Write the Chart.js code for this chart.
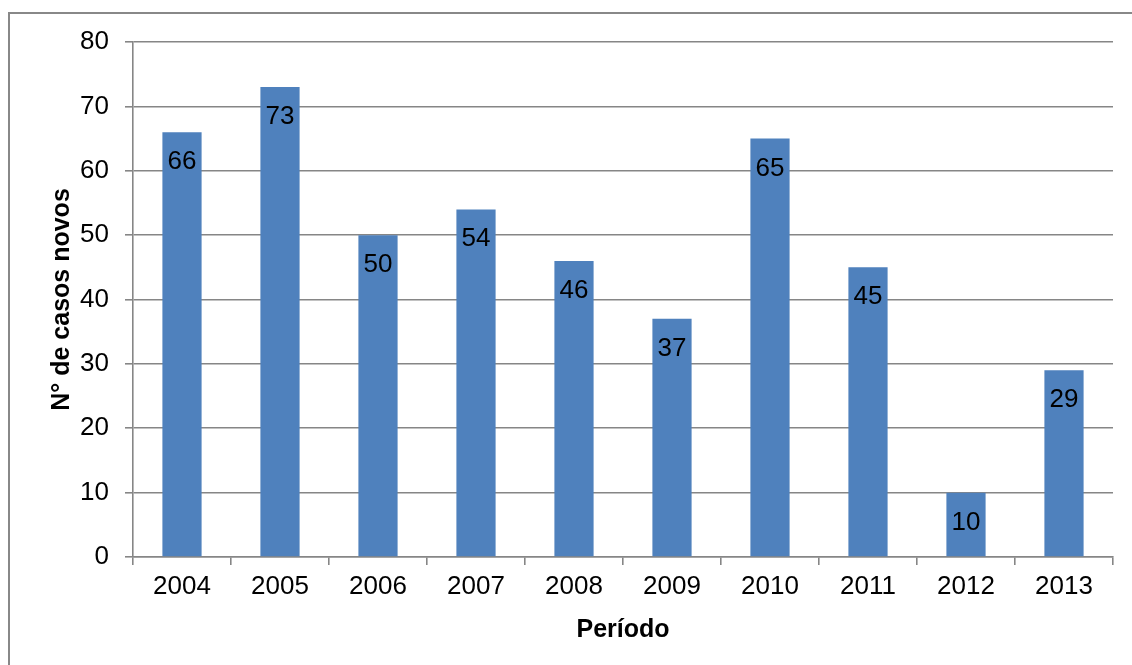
<!DOCTYPE html>
<html>
<head>
<meta charset="utf-8">
<script src="https://cdn.jsdelivr.net/npm/chart.js@4.4.1/dist/chart.umd.min.js"></script>
<style>
html,body{margin:0;padding:0;background:#fff;}
#wrap{position:relative;width:1132px;height:665px;}
canvas{display:block;}
</style>
</head>
<body>
<div id="wrap"><canvas id="c" width="1132" height="665"></canvas></div>
<script>
const categories = ['2004','2005','2006','2007','2008','2009','2010','2011','2012','2013'];
const casos = [66, 73, 50, 54, 46, 37, 65, 45, 10, 29];
const yTicks = [0, 10, 20, 30, 40, 50, 60, 70, 80];
const xTitle = 'Período';
const yTitle = 'N° de casos novos';

const FONT = 'Liberation Sans, Arial, sans-serif';
const GRID = '#868686';

const borderPlugin = {
  id: 'outerBorder',
  beforeDraw(chart) {
    const ctx = chart.ctx;
    ctx.save();
    ctx.fillStyle = '#fff';
    ctx.fillRect(0, 0, chart.width, chart.height);
    ctx.strokeStyle = '#888888';
    ctx.lineWidth = 2;
    ctx.strokeRect(9, 13, 1300, 800);
    ctx.restore();
  }
};

const labelPlugin = {
  id: 'barLabels',
  afterDatasetsDraw(chart) {
    const ctx = chart.ctx;
    const meta = chart.getDatasetMeta(0);
    ctx.save();
    ctx.fillStyle = '#000';
    ctx.font = '26px ' + FONT;
    ctx.textAlign = 'center';
    ctx.textBaseline = 'alphabetic';
    meta.data.forEach((el, i) => {
      ctx.fillText(String(chart.data.datasets[0].data[i]), el.x, el.y + 37);
    });
    ctx.restore();
  }
};

new Chart(document.getElementById('c'), {
  type: 'bar',
  data: {
    labels: categories,
    datasets: [{
      data: casos,
      backgroundColor: '#4F81BD',
      borderWidth: 0,
      categoryPercentage: 1,
      barPercentage: 0.4
    }]
  },
  options: {
    responsive: false,
    animation: false,
    devicePixelRatio: 1,
    layout: { padding: { left: 0, right: 19, top: 42, bottom: 0 } },
    plugins: { legend: { display: false }, tooltip: { enabled: false } },
    scales: {
      x: {
        grid: { offset: true, drawOnChartArea: false, drawTicks: true, tickLength: 8, color: GRID, lineWidth: 1.6 },
        border: { display: true, color: GRID, width: 1.6 },
        ticks: { color: '#000', font: { family: FONT, size: 26 }, padding: 6, maxRotation: 0 },
        title: { display: true, text: xTitle, color: '#000', font: { family: FONT, size: 25, weight: 'bold' }, padding: { top: 20, bottom: 20 } },
        afterFit(scale) { scale.height = 108; }
      },
      y: {
        min: 0, max: 80,
        afterBuildTicks(scale) { scale.ticks = yTicks.map(v => ({ value: v })); },
        grid: { drawOnChartArea: true, drawTicks: true, tickLength: 8, color: GRID, lineWidth: 1.6 },
        border: { display: true, color: GRID, width: 1.6 },
        ticks: { color: '#000', font: { family: FONT, size: 26 }, padding: 16 },
        title: { display: true, text: yTitle, color: '#000', font: { family: FONT, size: 25, weight: 'bold' }, padding: { top: 47, bottom: 47 } },
        afterFit(scale) { scale.width = 133; }
      }
    }
  },
  plugins: [borderPlugin, labelPlugin]
});
</script>
</body>
</html>
